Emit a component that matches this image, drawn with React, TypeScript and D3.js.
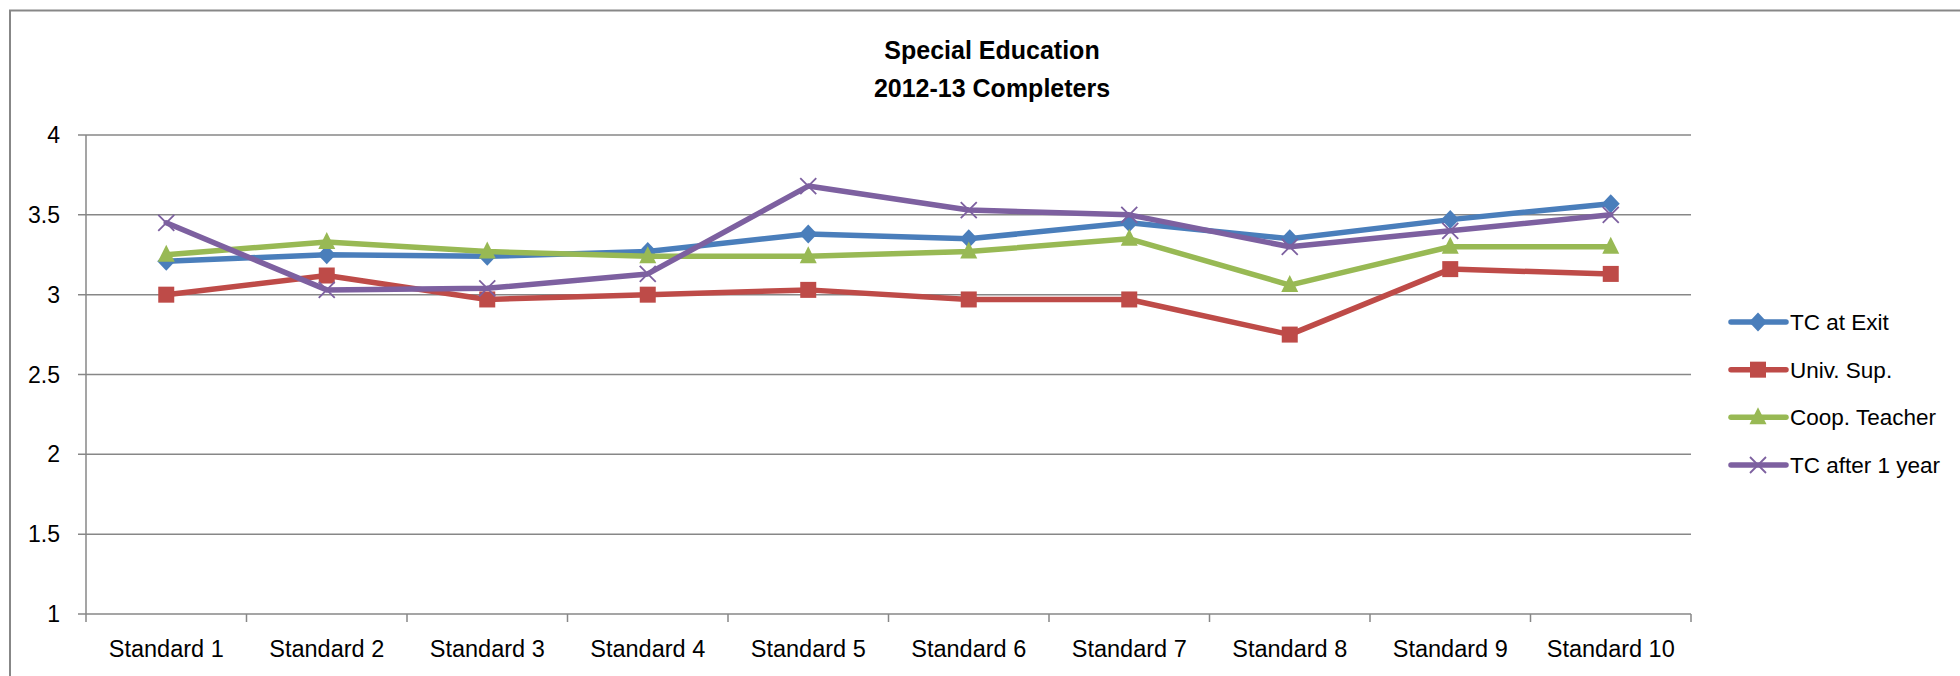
import React, { useEffect, useRef } from 'react';
import * as d3 from 'd3';

const categories = [
  'Standard 1', 'Standard 2', 'Standard 3', 'Standard 4', 'Standard 5',
  'Standard 6', 'Standard 7', 'Standard 8', 'Standard 9', 'Standard 10',
];

const tcAtExit = [3.21, 3.25, 3.24, 3.27, 3.38, 3.35, 3.45, 3.35, 3.47, 3.57];
const univSup = [3.0, 3.12, 2.97, 3.0, 3.03, 2.97, 2.97, 2.75, 3.16, 3.13];
const coopTeacher = [3.25, 3.33, 3.27, 3.24, 3.24, 3.27, 3.35, 3.06, 3.3, 3.3];
const tcAfterYear = [3.45, 3.03, 3.04, 3.13, 3.68, 3.53, 3.5, 3.3, 3.4, 3.5];

const yTicks = [1, 1.5, 2, 2.5, 3, 3.5, 4];

const seriesNames = ['TC at Exit', 'Univ. Sup.', 'Coop. Teacher', 'TC after 1 year'];

const series = [
  { name: seriesNames[0], values: tcAtExit, color: '#4a7ebb', marker: 'diamond' },
  { name: seriesNames[1], values: univSup, color: '#be4b48', marker: 'square' },
  { name: seriesNames[2], values: coopTeacher, color: '#98b954', marker: 'triangle' },
  { name: seriesNames[3], values: tcAfterYear, color: '#7d60a0', marker: 'x' },
];

const FONT = '"Liberation Sans", Arial, sans-serif';

function drawMarker(g: d3.Selection<SVGGElement, unknown, null, undefined>, kind: string, x: number, y: number, color: string) {
  if (kind === 'diamond') {
    g.append('path')
      .attr('d', `M${x},${y - 9.5} L${x + 9},${y} L${x},${y + 9.5} L${x - 9},${y} Z`)
      .attr('fill', color);
  } else if (kind === 'square') {
    g.append('rect')
      .attr('x', x - 8)
      .attr('y', y - 8)
      .attr('width', 16)
      .attr('height', 16)
      .attr('fill', color);
  } else if (kind === 'triangle') {
    g.append('path')
      .attr('d', `M${x},${y - 10} L${x + 8.5},${y + 7} L${x - 8.5},${y + 7} Z`)
      .attr('fill', color);
  } else {
    g.append('path')
      .attr('d', `M${x - 8},${y - 8} L${x + 8},${y + 8} M${x + 8},${y - 8} L${x - 8},${y + 8}`)
      .attr('stroke', color)
      .attr('stroke-width', 1.8)
      .attr('fill', 'none');
  }
}

export default function App() {
  const svgRef = useRef<SVGSVGElement>(null);

  useEffect(() => {
    if (!svgRef.current) return;
    const svg = d3.select(svgRef.current);
    svg.selectAll('*').remove();

    const plot = { left: 86, right: 1691, top: 135, bottom: 614 };

    const x = d3.scaleBand().domain(categories).range([plot.left, plot.right]);
    const y = d3.scaleLinear().domain([1, 4]).range([plot.bottom, plot.top]);
    const cx = (c: string) => (x(c) as number) + x.bandwidth() / 2;

    const grid = '#878787';

    // outer chart border (cut off at right / bottom)
    svg.append('path')
      .attr('d', 'M10,690 L10,10.5 L1970,10.5')
      .attr('fill', 'none')
      .attr('stroke', grid)
      .attr('stroke-width', 2);

    // Title
    const title = svg.append('text')
      .attr('text-anchor', 'middle')
      .style('font-family', FONT)
      .style('font-weight', 'bold')
      .style('font-size', '25px')
      .attr('fill', '#000');
    title.append('tspan').attr('x', 992).attr('y', 59).text('Special Education');
    title.append('tspan').attr('x', 992).attr('y', 97).text('2012-13 Completers');

    // Grid lines
    const g = svg.append('g');
    g.selectAll('.grid')
      .data(yTicks.filter((t) => t !== 1))
      .enter()
      .append('line')
      .attr('x1', plot.left - 8)
      .attr('x2', plot.right)
      .attr('y1', (d) => y(d))
      .attr('y2', (d) => y(d))
      .attr('stroke', grid)
      .attr('stroke-width', 1.5);

    // Y axis
    g.append('line')
      .attr('x1', plot.left)
      .attr('x2', plot.left)
      .attr('y1', plot.top)
      .attr('y2', plot.bottom)
      .attr('stroke', grid)
      .attr('stroke-width', 1.5);

    // X axis
    g.append('line')
      .attr('x1', plot.left - 8)
      .attr('x2', plot.right)
      .attr('y1', plot.bottom)
      .attr('y2', plot.bottom)
      .attr('stroke', grid)
      .attr('stroke-width', 1.5);

    const boundaries = categories.map((c) => x(c) as number).concat([plot.right]);
    g.selectAll('.xtick')
      .data(boundaries)
      .enter()
      .append('line')
      .attr('x1', (d) => d)
      .attr('x2', (d) => d)
      .attr('y1', plot.bottom)
      .attr('y2', plot.bottom + 8)
      .attr('stroke', grid)
      .attr('stroke-width', 1.5);

    // Y labels
    g.selectAll('.ylabel')
      .data(yTicks)
      .enter()
      .append('text')
      .attr('x', 60)
      .attr('y', (d) => y(d))
      .attr('dy', '0.35em')
      .attr('text-anchor', 'end')
      .style('font-family', FONT)
      .style('font-size', '23px')
      .attr('fill', '#000')
      .text((d) => String(d));

    // X labels
    g.selectAll('.xlabel')
      .data(categories)
      .enter()
      .append('text')
      .attr('x', (d) => cx(d))
      .attr('y', 657)
      .attr('text-anchor', 'middle')
      .style('font-family', FONT)
      .style('font-size', '23.5px')
      .attr('fill', '#000')
      .text((d) => d);

    // Lines
    const line = d3
      .line<number>()
      .x((_, i) => cx(categories[i]))
      .y((d) => y(d));

    series.forEach((s) => {
      const sg = svg.append('g');
      sg.append('path')
        .attr('d', line(s.values) as string)
        .attr('fill', 'none')
        .attr('stroke', s.color)
        .attr('stroke-width', 5.5)
        .attr('stroke-linejoin', 'round')
        .attr('stroke-linecap', 'round');
      s.values.forEach((v, i) => drawMarker(sg, s.marker, cx(categories[i]), y(v), s.color));
    });

    // Legend
    const legend = svg.append('g');
    const legendY = d3.scalePoint().domain(seriesNames).range([322, 465]);
    series.forEach((s) => {
      const ly = legendY(s.name) as number;
      legend.append('line')
        .attr('x1', 1731)
        .attr('x2', 1786)
        .attr('y1', ly)
        .attr('y2', ly)
        .attr('stroke', s.color)
        .attr('stroke-width', 5.5)
        .attr('stroke-linecap', 'round');
      drawMarker(legend, s.marker, 1758, ly, s.color);
      legend.append('text')
        .attr('x', 1790)
        .attr('y', ly)
        .attr('dy', '0.35em')
        .style('font-family', FONT)
        .style('font-size', '22.5px')
        .attr('fill', '#000')
        .text(s.name);
    });
  }, []);

  return (
    <div style={{ position: 'absolute', left: 0, top: 0 }}>
      <svg ref={svgRef} width={1960} height={676} style={{ display: 'block', background: '#fff' }}></svg>
    </div>
  );
}
